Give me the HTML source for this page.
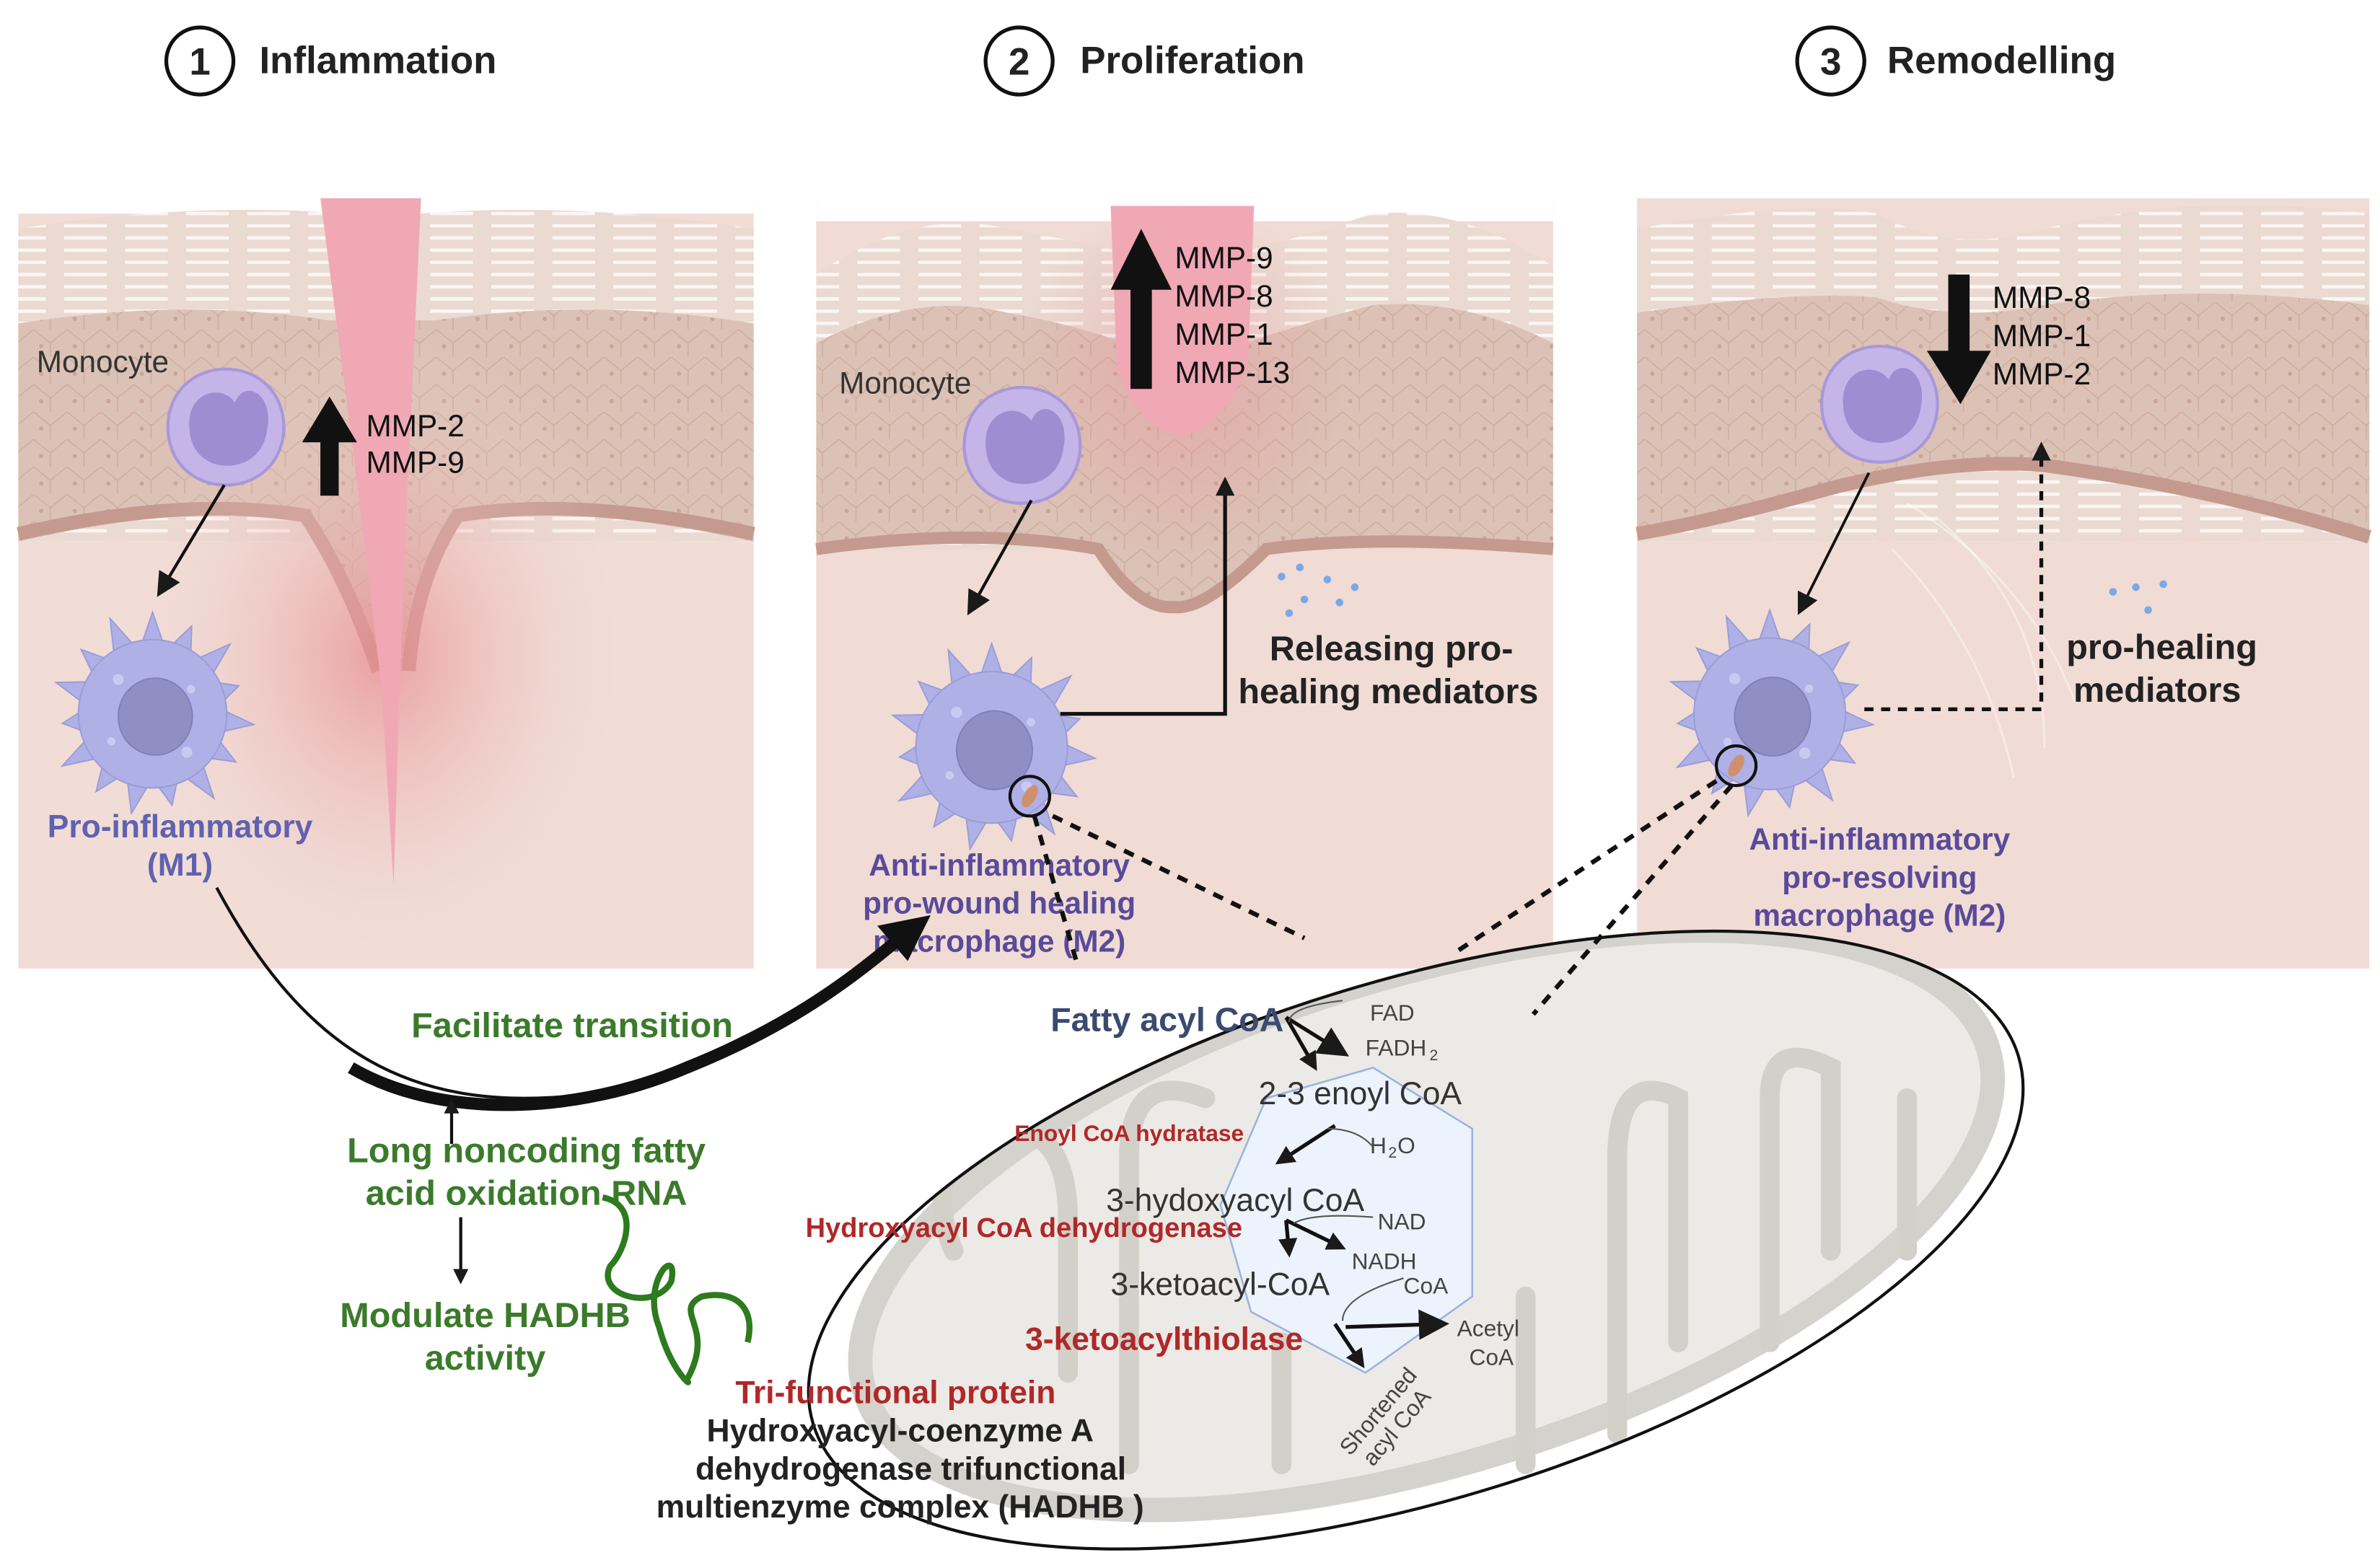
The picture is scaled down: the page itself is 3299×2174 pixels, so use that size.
<!DOCTYPE html>
<html><head><meta charset="utf-8"><style>html,body{margin:0;padding:0;background:#fff;overflow:hidden}svg{display:block}</style></head>
<body>
<svg width="3299" height="2174" viewBox="0 0 1560 1028" preserveAspectRatio="none" xmlns="http://www.w3.org/2000/svg" font-family="Liberation Sans, sans-serif">
<defs>
<radialGradient id="glow" cx="0.5" cy="0.5" r="0.5"><stop offset="0" stop-color="#e88a90" stop-opacity="0.75"/><stop offset="1" stop-color="#f0dcd6" stop-opacity="0"/></radialGradient>
<radialGradient id="glow2" cx="0.5" cy="0.5" r="0.5"><stop offset="0" stop-color="#e8909a" stop-opacity="0.45"/><stop offset="1" stop-color="#e8909a" stop-opacity="0"/></radialGradient>
<pattern id="sc" width="40" height="8" patternUnits="userSpaceOnUse"><rect width="40" height="8" fill="#eadad2"/><path d="M2 4 H30" stroke="#fbf6f3" stroke-width="2.2"/></pattern>
<pattern id="cells" width="22" height="18" patternUnits="userSpaceOnUse"><rect width="22" height="18" fill="#dcc2b6"/><path d="M0 0 L11 9 L22 0 M11 9 V18" stroke="#cfae9f" stroke-width="0.8" fill="none"/><circle cx="5" cy="11" r="1.4" fill="#caa595"/></pattern>
<clipPath id="mclip"><ellipse cx="928" cy="813" rx="413" ry="170" transform="rotate(-17 928 813)"/></clipPath>
<g id="mac">
<g fill="#aeb0e6" stroke="#9a9cd6" stroke-width="1">
<path d="M-9,-48 L0,-74 L9,-48Z"/><path d="M-9,-48 L0,-70 L9,-48Z" transform="rotate(24)"/><path d="M-9,-48 L0,-76 L9,-48Z" transform="rotate(48)"/><path d="M-9,-48 L0,-66 L9,-48Z" transform="rotate(72)"/><path d="M-9,-48 L0,-74 L9,-48Z" transform="rotate(96)"/><path d="M-9,-48 L0,-70 L9,-48Z" transform="rotate(120)"/><path d="M-9,-48 L0,-76 L9,-48Z" transform="rotate(144)"/><path d="M-9,-48 L0,-68 L9,-48Z" transform="rotate(168)"/><path d="M-9,-48 L0,-74 L9,-48Z" transform="rotate(192)"/><path d="M-9,-48 L0,-70 L9,-48Z" transform="rotate(216)"/><path d="M-9,-48 L0,-76 L9,-48Z" transform="rotate(240)"/><path d="M-9,-48 L0,-66 L9,-48Z" transform="rotate(264)"/><path d="M-9,-48 L0,-74 L9,-48Z" transform="rotate(288)"/><path d="M-9,-48 L0,-70 L9,-48Z" transform="rotate(312)"/><path d="M-9,-48 L0,-76 L9,-48Z" transform="rotate(336)"/>
</g>
<circle r="54" fill="#aeb0e6" stroke="#9a9cd6"/>
<ellipse cx="2" cy="2" rx="27" ry="28" fill="#8f8fc4" stroke="#8080b8"/>
<circle cx="-25" cy="-25" r="4" fill="#c8caf0"/><circle cx="28" cy="-18" r="3" fill="#c8caf0"/><circle cx="-30" cy="20" r="3" fill="#c8caf0"/><circle cx="25" cy="28" r="4" fill="#c8caf0"/>
</g>
<g id="mono">
<path d="M0,-38 C22,-38 38,-22 38,0 C38,22 22,38 0,38 C-22,38 -38,22 -38,0 C-38,-22 -22,-38 0,-38Z" fill="#c4b4e8" stroke="#a898d8" stroke-width="2"/>
<path d="M-24,-2 C-24,-24 -2,-28 6,-16 C12,-32 32,-22 27,2 C24,24 4,28 -8,24 C-18,20 -24,12 -24,-2Z" fill="#a08cd0"/>
</g>
<marker id="ah" markerWidth="8" markerHeight="8" refX="6" refY="4" orient="auto" markerUnits="strokeWidth"><path d="M0,0 L8,4 L0,8Z" fill="#1a1a1a"/></marker>
<marker id="ahs" markerWidth="5" markerHeight="5" refX="4" refY="2.5" orient="auto" markerUnits="strokeWidth"><path d="M0,0 L5,2.5 L0,5Z" fill="#1a1a1a"/></marker>
</defs>

<!-- titles -->
<g font-weight="bold" font-size="25" fill="#222">
<circle cx="131" cy="40" r="22" fill="none" stroke="#111" stroke-width="2.5"/><text x="131" y="49" text-anchor="middle">1</text><text x="170" y="48">Inflammation</text>
<circle cx="668" cy="40" r="22" fill="none" stroke="#111" stroke-width="2.5"/><text x="668" y="49" text-anchor="middle">2</text><text x="708" y="48">Proliferation</text>
<circle cx="1200" cy="40" r="22" fill="none" stroke="#111" stroke-width="2.5"/><text x="1200" y="49" text-anchor="middle">3</text><text x="1237" y="48">Remodelling</text>
</g>

<!-- PANEL 1 -->
<g>
<rect x="12" y="130" width="482" height="505" fill="#f1ddd6"/>
<rect x="12" y="130" width="482" height="10" fill="#fff"/>
<path d="M12,150 Q120,132 230,140 L275,140 Q380,132 494,150 L494,355 L12,355Z" fill="url(#sc)"/>
<path d="M12,212 Q120,195 215,210 L285,210 Q390,195 494,212 L494,355 Q380,330 300,340 Q270,380 268,440 L250,440 Q230,380 200,340 Q120,330 12,355Z" fill="url(#cells)"/>
<path d="M12,350 Q120,325 200,338 Q228,380 248,440 M494,350 Q380,325 300,338 Q272,380 268,440" stroke="#c49a8e" stroke-width="9" fill="none"/>
<ellipse cx="250" cy="430" rx="170" ry="210" fill="url(#glow)"/>
<path d="M210,130 L276,130 L268,300 L262,450 L258,580 L250,450 L232,300Z" fill="#f0a8b4"/>
<use href="#mono" x="148" y="280"/>
<use href="#mac" x="100" y="468" transform="translate(100,468) scale(0.9) translate(-100,-468)"/>
<path d="M147,318 L105,388" stroke="#111" stroke-width="2" marker-end="url(#ah)"/>
<path d="M210,325 V290 H198 L216,260 L234,290 H222 V325Z" fill="#111"/>
<text x="24" y="244" font-size="20" fill="#333">Monocyte</text>
<text x="240" y="286" font-size="20" fill="#111">MMP-2</text>
<text x="240" y="310" font-size="20" fill="#111">MMP-9</text>
<text x="118" y="549" font-size="21" font-weight="bold" fill="#6062b0" text-anchor="middle">Pro-inflammatory</text>
<text x="118" y="574" font-size="21" font-weight="bold" fill="#6062b0" text-anchor="middle">(M1)</text>
</g>

<!-- PANEL 2 -->
<g>
<rect x="535" y="130" width="483" height="505" fill="#f0dcd5"/>
<rect x="535" y="130" width="483" height="15" fill="#fff"/>
<path d="M535,180 Q600,135 660,150 Q720,160 775,175 Q840,160 900,140 Q960,135 1018,175 L1018,360 L535,360Z" fill="url(#sc)"/>
<path d="M535,225 Q600,190 660,205 Q720,215 775,240 Q840,215 900,200 Q960,195 1018,225 L1018,360 Q900,350 830,360 Q790,400 770,398 Q745,400 720,360 Q640,345 535,360Z" fill="url(#cells)"/>
<path d="M535,360 Q640,345 720,360 Q745,400 770,398 Q790,400 830,360 Q900,350 1018,360" stroke="#c49a8e" stroke-width="8" fill="none"/>
<ellipse cx="775" cy="250" rx="110" ry="120" fill="url(#glow2)"/>
<path d="M728,135 L822,135 L818,240 Q800,282 775,285 Q745,282 732,240Z" fill="#f0a8b4"/>
<use href="#mono" x="670" y="292"/>
<use href="#mac" x="650" y="490" transform="translate(650,490) scale(0.92) translate(-650,-490)"/>
<circle cx="675" cy="522" r="13" fill="none" stroke="#111" stroke-width="2"/>
<ellipse cx="675" cy="522" rx="4" ry="8" fill="#d09070" transform="rotate(30 675 522)"/>
<path d="M676,328 L636,400" stroke="#111" stroke-width="2" marker-end="url(#ah)"/>
<path d="M741,255 V190 H728 L748,150 L768,190 H755 V255Z" fill="#111"/>
<g font-size="20" fill="#111"><text x="770" y="176">MMP-9</text><text x="770" y="201">MMP-8</text><text x="770" y="226">MMP-1</text><text x="770" y="251">MMP-13</text></g>
<text x="550" y="258" font-size="20" fill="#333">Monocyte</text>
<path d="M695,468 H803 V315" stroke="#111" stroke-width="2.5" fill="none" marker-end="url(#ahs)"/>
<g fill="#7aa8e8"><circle cx="840" cy="378" r="2.5"/><circle cx="852" cy="372" r="2.5"/><circle cx="870" cy="380" r="2.5"/><circle cx="855" cy="393" r="2.5"/><circle cx="878" cy="395" r="2.5"/><circle cx="845" cy="402" r="2.5"/><circle cx="888" cy="385" r="2.5"/></g>
<text x="912" y="433" font-size="23" font-weight="bold" fill="#222" text-anchor="middle">Releasing pro-</text>
<text x="910" y="461" font-size="23" font-weight="bold" fill="#222" text-anchor="middle">healing mediators</text>
<g font-size="20" font-weight="bold" fill="#5a4a9a" text-anchor="middle"><text x="655" y="574">Anti-inflammatory</text><text x="655" y="599">pro-wound healing</text><text x="655" y="624">macrophage (M2)</text></g>
</g>

<!-- PANEL 3 -->
<g>
<rect x="1073" y="130" width="480" height="505" fill="#f0dcd5"/>
<path d="M1073,150 Q1180,130 1230,140 Q1280,168 1340,150 Q1440,125 1553,140 L1553,355 L1073,355Z" fill="url(#sc)"/>
<path d="M1073,205 Q1180,190 1230,195 Q1280,212 1340,200 Q1440,185 1553,200 L1553,355 Q1450,320 1340,305 Q1280,300 1200,320 Q1130,340 1073,350Z" fill="url(#cells)"/>
<path d="M1073,350 Q1130,340 1200,320 Q1280,300 1340,305 Q1450,320 1553,352" stroke="#c49a8e" stroke-width="9" fill="none"/>
<g stroke="#fff" stroke-opacity="0.4" fill="none" stroke-width="1.5"><path d="M1250,330 Q1330,380 1360,460"/><path d="M1270,340 Q1340,400 1340,490"/><path d="M1240,360 Q1300,420 1320,510"/></g>
<use href="#mono" x="1232" y="265"/>
<use href="#mac" x="1160" y="468" transform="translate(1160,468) scale(0.92) translate(-1160,-468)"/>
<circle cx="1138" cy="502" r="13" fill="none" stroke="#111" stroke-width="2"/>
<ellipse cx="1138" cy="502" rx="4" ry="8" fill="#d09070" transform="rotate(30 1138 502)"/>
<path d="M1225,310 L1180,400" stroke="#111" stroke-width="1.8" marker-end="url(#ah)"/>
<path d="M1277,180 V230 H1263 L1285,265 L1305,230 H1291 V180Z" fill="#111"/>
<g font-size="20" fill="#111"><text x="1306" y="202">MMP-8</text><text x="1306" y="227">MMP-1</text><text x="1306" y="252">MMP-2</text></g>
<path d="M1222,465 H1338 V292" stroke="#111" stroke-width="2.5" stroke-dasharray="6,5" fill="none" marker-end="url(#ahs)"/>
<g fill="#7aa8e8"><circle cx="1385" cy="388" r="2.5"/><circle cx="1400" cy="385" r="2.5"/><circle cx="1418" cy="383" r="2.5"/><circle cx="1408" cy="400" r="2.5"/></g>
<text x="1417" y="432" font-size="23" font-weight="bold" fill="#222" text-anchor="middle">pro-healing</text>
<text x="1414" y="460" font-size="23" font-weight="bold" fill="#222" text-anchor="middle">mediators</text>
<g font-size="20" font-weight="bold" fill="#5a4a9a" text-anchor="middle"><text x="1232" y="557">Anti-inflammatory</text><text x="1232" y="582">pro-resolving</text><text x="1232" y="607">macrophage (M2)</text></g>
</g>

<!-- mitochondria -->
<g>
<ellipse cx="928" cy="813" rx="413" ry="170" transform="rotate(-17 928 813)" fill="#fff"/>
<g clip-path="url(#mclip)">
<ellipse cx="935" cy="800" rx="385" ry="160" transform="rotate(-17 935 800)" fill="#ebeae6" stroke="#d4d2cc" stroke-width="16"/>
<g stroke="#d2d0c9" stroke-width="13" fill="none" stroke-linecap="round">
<path d="M625,820 Q600,760 660,740 Q700,740 700,800 V900"/>
<path d="M740,960 V760 Q740,700 790,720"/>
<path d="M840,960 V880"/>
<path d="M1000,960 V850"/>
<path d="M1060,940 V760 Q1060,700 1100,720 V880"/>
<path d="M1160,880 V720 Q1160,680 1200,700 V820"/>
<path d="M1250,820 V720"/>
<path d="M700,700 Q680,650 720,650"/>
</g>
</g>
<ellipse cx="928" cy="813" rx="413" ry="170" transform="rotate(-17 928 813)" fill="none" stroke="#111" stroke-width="2"/>
<polygon points="830,720 900,700 965,740 965,850 895,900 820,860 800,790" fill="#edf3fc" stroke="#9ab2e0" stroke-width="1.2"/>
<text x="765" y="676" font-size="22" font-weight="bold" fill="#3a4a70" text-anchor="middle">Fatty acyl CoA</text>
<g font-size="15" fill="#444"><text x="898" y="669">FAD</text><text x="895" y="692">FADH</text><text x="937" y="695" font-size="10">2</text><text x="898" y="756">H</text><text x="910" y="759" font-size="10">2</text><text x="916" y="756">O</text>
<text x="903" y="806">NAD</text><text x="886" y="832">NADH</text><text x="920" y="848">CoA</text><text x="955" y="876">Acetyl</text><text x="963" y="895">CoA</text>
<text x="885" y="955" transform="rotate(-50 885 955)">Shortened</text><text x="900" y="962" transform="rotate(-50 900 962)">acyl CoA</text></g>
<g font-size="21" fill="#333"><text x="825" y="724">2-3 enoyl CoA</text><text x="725" y="794">3-hydoxyacyl CoA</text><text x="728" y="849">3-ketoacyl-CoA</text></g>
<text x="665" y="748" font-size="15" font-weight="bold" fill="#b02828">Enoyl CoA hydratase</text>
<text x="528" y="811" font-size="18" font-weight="bold" fill="#b02828">Hydroxyacyl CoA dehydrogenase</text>
<text x="672" y="885" font-size="21" font-weight="bold" fill="#b02828">3-ketoacylthiolase</text>
<g stroke="#111" stroke-width="2.5" fill="none">
<path d="M843,667 L862,700" marker-end="url(#ahs)"/><path d="M843,667 L880,690" marker-end="url(#ah)"/>
<path d="M875,738 L838,762" marker-end="url(#ahs)"/>
<path d="M843,800 L845,822" marker-end="url(#ahs)"/><path d="M843,800 L880,818" marker-end="url(#ahs)"/>
<path d="M875,868 L893,895" marker-end="url(#ahs)"/><path d="M882,870 L945,868" marker-end="url(#ah)"/>
</g>
<g stroke="#555" stroke-width="1" fill="none"><path d="M880,656 Q845,660 845,670"/><path d="M870,740 Q890,740 900,752"/><path d="M900,798 Q860,795 848,802"/><path d="M920,838 Q880,850 880,866"/></g>
<g stroke="#111" stroke-width="3" stroke-dasharray="7,6" fill="none">
<path d="M678,535 L706,632"/><path d="M690,535 L855,615"/><path d="M1125,512 L953,625"/><path d="M1135,515 L1005,665"/>
</g>
</g>

<!-- transition arrow -->
<path d="M142,582 C200,690 270,730 380,718 C470,705 540,650 605,605" stroke="#111" stroke-width="2" fill="none"/>
<path d="M230,700 C290,735 380,730 450,700 C520,672 560,640 590,615" stroke="#111" stroke-width="8" fill="none"/>
<path d="M575,607 L610,600 L595,630Z" fill="#111"/>
<text x="375" y="680" font-size="23" font-weight="bold" fill="#3b7a2b" text-anchor="middle">Facilitate transition</text>
<path d="M296,750 V722" stroke="#111" stroke-width="2" marker-end="url(#ahs)"/>
<text x="345" y="762" font-size="23" font-weight="bold" fill="#3b7a2b" text-anchor="middle">Long noncoding fatty</text>
<text x="345" y="790" font-size="23" font-weight="bold" fill="#3b7a2b" text-anchor="middle">acid oxidation  RNA</text>
<path d="M302,798 V840" stroke="#111" stroke-width="2" marker-end="url(#ahs)"/>
<text x="318" y="870" font-size="23" font-weight="bold" fill="#3b7a2b" text-anchor="middle">Modulate HADHB</text>
<text x="318" y="898" font-size="23" font-weight="bold" fill="#3b7a2b" text-anchor="middle">activity</text>
<path d="M395,785 C420,790 410,820 400,830 C390,850 430,860 440,840 C445,815 420,840 432,870 C440,900 455,910 450,905 C470,870 440,860 460,850 C485,845 495,860 490,880" stroke="#2e7a1e" stroke-width="4" fill="none"/>
<text x="587" y="920" font-size="21" font-weight="bold" fill="#b02828" text-anchor="middle">Tri-functional protein</text>
<g font-size="21" font-weight="bold" fill="#222" text-anchor="middle"><text x="590" y="945">Hydroxyacyl-coenzyme A</text><text x="597" y="970">dehydrogenase trifunctional</text><text x="590" y="995">multienzyme complex (HADHB )</text></g>
</svg>
</body></html>
